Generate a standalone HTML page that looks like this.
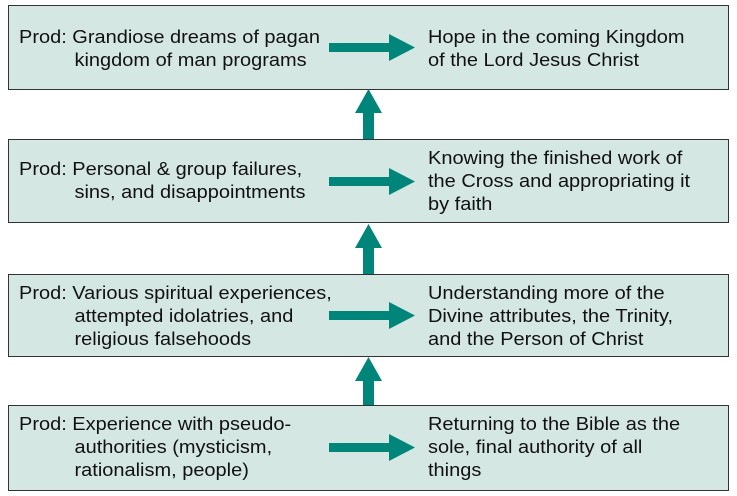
<!DOCTYPE html>
<html><head><style>
body{margin:0;width:737px;height:496px;background:#fff;position:relative;font-family:"Liberation Sans",Arial,sans-serif;font-size:18px;color:#111;overflow:hidden}
.b{position:absolute;left:8px;width:721px;background:#d5e7e3;border:1px solid #333;box-sizing:border-box}
.t{position:absolute;line-height:23px;white-space:nowrap;transform:scaleX(1.11);transform-origin:0 0}
.l{left:19px}.r{left:428px}
.i{padding-left:50px}
</style></head><body>
<div class="b" style="top:5px;height:85px"></div>
<div class="b" style="top:139px;height:84px"></div>
<div class="b" style="top:274px;height:83px"></div>
<div class="b" style="top:405px;height:86px"></div>
<svg width="737" height="496" style="position:absolute;left:0;top:0">
<g fill="#00857a">
<path d="M329 43H389V34L415 47.5L389 61V52H329Z"/>
<path d="M329 177H389V168L415 181.5L389 195V186H329Z"/>
<path d="M329 311H389V302L415 315.5L389 329V320H329Z"/>
<path d="M329 443H389V434L415 447.5L389 461V452H329Z"/>
<path d="M363 139V113H355L368.5 89L382 113H374V139Z"/>
<path d="M363 274V248H355L368.5 224L382 248H374V274Z"/>
<path d="M363 405V381H355L368.5 357L382 381H374V405Z"/>
</g></svg>
<div class="t l" style="top:26px">Prod: Grandiose dreams of pagan<br><span class="i">kingdom of man programs</span></div>
<div class="t r" style="top:26px">Hope in the coming Kingdom<br>of the Lord Jesus Christ</div>
<div class="t l" style="top:158px">Prod: Personal &amp; group failures,<br><span class="i">sins, and disappointments</span></div>
<div class="t r" style="top:147px">Knowing the finished work of<br>the Cross and appropriating it<br>by faith</div>
<div class="t l" style="top:282px">Prod: Various spiritual experiences,<br><span class="i">attempted idolatries, and</span><br><span class="i">religious falsehoods</span></div>
<div class="t r" style="top:282px">Understanding more of the<br>Divine attributes, the Trinity,<br>and the Person of Christ</div>
<div class="t l" style="top:413px">Prod: Experience with pseudo-<br><span class="i">authorities (mysticism,</span><br><span class="i">rationalism, people)</span></div>
<div class="t r" style="top:413px">Returning to the Bible as the<br>sole, final authority of all<br>things</div>
</body></html>
